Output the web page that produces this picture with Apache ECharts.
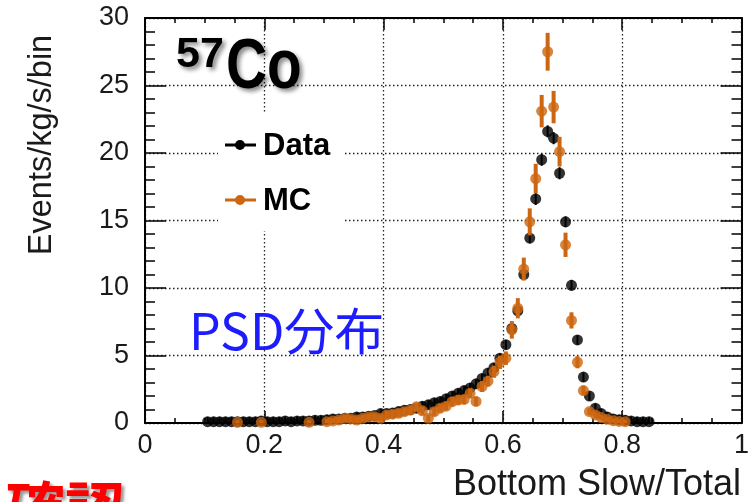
<!DOCTYPE html>
<html>
<head>
<meta charset="utf-8">
<script src="https://cdn.jsdelivr.net/npm/echarts@6/dist/echarts.min.js"></script>
<style>
  html, body { margin: 0; padding: 0; background: #fff; }
  #chart { width: 755px; height: 502px; }
</style>
</head>
<body>
<div id="chart"></div>
<script>
// Measured PSD distribution (Bottom Slow/Total) for the 57Co source
const dataX = [
  0.105, 0.115, 0.125, 0.135, 0.145, 0.155, 0.165, 0.175, 0.185, 0.195,
  0.205, 0.215, 0.225, 0.235, 0.245, 0.255, 0.265, 0.275, 0.285, 0.295,
  0.305, 0.315, 0.325, 0.335, 0.345, 0.355, 0.365, 0.375, 0.385, 0.395,
  0.405, 0.415, 0.425, 0.435, 0.445, 0.455, 0.465, 0.475, 0.485, 0.495,
  0.505, 0.515, 0.525, 0.535, 0.545, 0.555, 0.565, 0.575, 0.585, 0.595,
  0.605, 0.615, 0.625, 0.635, 0.645, 0.655, 0.665, 0.675, 0.685, 0.695,
  0.705, 0.715, 0.725, 0.735, 0.745, 0.755, 0.765, 0.775, 0.785, 0.795,
  0.805, 0.815, 0.825, 0.835, 0.845
];
const dataY = [
  0.1, 0.1, 0.1, 0.1, 0.1, 0.1, 0.1, 0.1, 0.1, 0.15,
  0.1, 0.1, 0.1, 0.15, 0.1, 0.15, 0.15, 0.15, 0.2, 0.2,
  0.25, 0.3, 0.3, 0.35, 0.35, 0.45, 0.45, 0.5, 0.55, 0.7,
  0.7, 0.75, 0.85, 0.95, 1.0, 1.1, 1.25, 1.35, 1.5, 1.6,
  1.8, 2.0, 2.2, 2.4, 2.6, 2.9, 3.3, 3.7, 4.1, 4.8,
  5.8, 7.0, 8.3, 11.0, 13.7, 16.6, 19.5, 21.6, 21.1, 18.5,
  14.9, 10.2, 6.15, 3.4, 2.0, 1.1, 0.7, 0.45, 0.3, 0.25,
  0.2, 0.15, 0.1, 0.1, 0.1
];
const dataErr = [
  0.35, 0.35, 0.35, 0.35, 0.35, 0.35, 0.35, 0.35, 0.35, 0.35,
  0.35, 0.35, 0.35, 0.35, 0.35, 0.35, 0.35, 0.35, 0.35, 0.35,
  0.35, 0.35, 0.35, 0.35, 0.35, 0.35, 0.35, 0.35, 0.35, 0.35,
  0.35, 0.35, 0.35, 0.35, 0.35, 0.35, 0.35, 0.35, 0.35, 0.35,
  0.35, 0.35, 0.35, 0.35, 0.35, 0.35, 0.35, 0.35, 0.35, 0.35,
  0.35, 0.35, 0.4, 0.4, 0.4, 0.45, 0.45, 0.45, 0.45, 0.45,
  0.4, 0.4, 0.35, 0.35, 0.35, 0.35, 0.35, 0.35, 0.35, 0.35,
  0.35, 0.35, 0.35, 0.35, 0.35
];

// Simulated (MC) PSD distribution
const mcX = [
  0.155, 0.195, 0.275, 0.305, 0.315, 0.325, 0.335, 0.345, 0.355, 0.365,
  0.375, 0.385, 0.395, 0.405, 0.415, 0.425, 0.435, 0.445, 0.455, 0.465,
  0.475, 0.485, 0.495, 0.505, 0.515, 0.525, 0.535, 0.545, 0.555, 0.565,
  0.575, 0.585, 0.595, 0.605, 0.615, 0.625, 0.635, 0.645, 0.655, 0.665,
  0.675, 0.685, 0.695, 0.705, 0.715, 0.725, 0.735, 0.745, 0.755, 0.765,
  0.775, 0.785, 0.795, 0.805
];
const mcY = [
  0.05, 0.05, 0.05, 0.1, 0.15, 0.22, 0.35, 0.3, 0.22, 0.35,
  0.45, 0.47, 0.35, 0.6, 0.65, 0.72, 0.84, 0.95, 1.2, 0.9,
  0.35, 0.84, 1.1, 1.25, 1.58, 1.7, 1.75, 2.2, 1.6, 2.7,
  3.1, 3.8, 4.5, 4.8, 6.9, 8.5, 11.4, 14.9, 18.1, 23.1,
  27.5, 23.4, 20.1, 13.2, 7.6, 4.5, 2.4, 0.85, 0.6, 0.4,
  0.27, 0.17, 0.12, 0.1
];
const mcErr = [
  0.15, 0.15, 0.15, 0.2, 0.2, 0.25, 0.25, 0.25, 0.25, 0.25,
  0.25, 0.25, 0.25, 0.3, 0.3, 0.3, 0.3, 0.3, 0.3, 0.3,
  0.25, 0.3, 0.3, 0.3, 0.35, 0.35, 0.35, 0.35, 0.35, 0.4,
  0.4, 0.45, 0.5, 0.5, 0.65, 0.75, 0.85, 1.0, 1.1, 1.2,
  1.4, 1.2, 1.1, 0.9, 0.6, 0.45, 0.35, 0.25, 0.25, 0.2,
  0.2, 0.15, 0.15, 0.15
];

const xTicks = { min: 0, max: 1, step: 0.2 };
const yTicks = { min: 0, max: 30, step: 5 };

const BLACK = '#000000';
const ORANGE = '#cc6611';
const FONT = 'Liberation Sans, Arial, Helvetica, sans-serif';

const chart = echarts.init(document.getElementById('chart'), null, { renderer: 'canvas' });

function rows(xs, ys, es) {
  return xs.map((x, i) => [x, ys[i], es[i]]);
}

function errorBars(color, width) {
  return function (params, api) {
    const x = api.value(0), y = api.value(1), e = api.value(2);
    const lo = api.coord([x, Math.max(0, y - e)]);
    const hi = api.coord([x, y + e]);
    return {
      type: 'line',
      shape: { x1: lo[0], y1: lo[1], x2: hi[0], y2: hi[1] },
      style: { stroke: color, lineWidth: width }
    };
  };
}

const dotted = { type: [1.5, 2.5], color: '#222', width: 1.3 };

function xAxisCfg(pos, labels) {
  return {
    type: 'value', position: pos, min: xTicks.min, max: xTicks.max, interval: xTicks.step,
    axisLine: { show: true, onZero: false, lineStyle: { color: BLACK, width: 2 } },
    axisTick: { show: true, inside: true, length: 12, lineStyle: { color: BLACK, width: 1.5 } },
    minorTick: { show: true, splitNumber: 4, length: 5, lineStyle: { color: BLACK, width: 1.5 } },
    splitLine: { show: labels, lineStyle: dotted },
    minorSplitLine: { show: false },
    axisLabel: { show: labels, fontSize: 27, color: '#1a1a1a', fontFamily: FONT, margin: 9 }
  };
}
function yAxisCfg(pos, labels) {
  return {
    type: 'value', position: pos, min: yTicks.min, max: yTicks.max, interval: yTicks.step,
    axisLine: { show: true, onZero: false, lineStyle: { color: BLACK, width: 2 } },
    axisTick: { show: true, inside: true, length: 21, lineStyle: { color: BLACK, width: 1.5 } },
    minorTick: { show: true, splitNumber: 5, length: 10, lineStyle: { color: BLACK, width: 1.5 } },
    splitLine: { show: labels, lineStyle: dotted },
    minorSplitLine: { show: false },
    axisLabel: { show: labels, fontSize: 27, color: '#1a1a1a', fontFamily: FONT, margin: 16 }
  };
}

const option = {
  animation: false,
  backgroundColor: '#fff',
  grid: { left: 145, top: 18, right: 13.5, bottom: 79, containLabel: false, outerBoundsMode: 'none' },
  xAxis: [xAxisCfg('bottom', true), xAxisCfg('top', false)],
  yAxis: [yAxisCfg('left', true), yAxisCfg('right', false)],
  series: [
    {
      name: 'Data err', type: 'custom', xAxisIndex: 0, yAxisIndex: 0,
      renderItem: errorBars(BLACK, 2), data: rows(dataX, dataY, dataErr), z: 3
    },
    {
      name: 'Data', type: 'scatter', xAxisIndex: 0, yAxisIndex: 0,
      symbol: 'circle', symbolSize: 11, itemStyle: { color: BLACK },
      data: dataX.map((x, i) => [x, dataY[i]]), z: 4
    },
    {
      name: 'MC err', type: 'custom', xAxisIndex: 0, yAxisIndex: 0,
      renderItem: errorBars(ORANGE, 4), data: rows(mcX, mcY, mcErr), z: 5
    },
    {
      name: 'MC', type: 'scatter', xAxisIndex: 0, yAxisIndex: 0,
      symbol: 'circle', symbolSize: 11, itemStyle: { color: ORANGE },
      data: mcX.map((x, i) => [x, mcY[i]]), z: 6
    }
  ],
  graphic: [
    // legend panel
    { type: 'rect', z: 20, shape: { x: 218, y: 113, width: 125, height: 118 }, style: { fill: '#fff' } },
    { type: 'line', z: 21, shape: { x1: 225, y1: 145, x2: 256, y2: 145 }, style: { stroke: BLACK, lineWidth: 3 } },
    { type: 'circle', z: 21, shape: { cx: 240, cy: 145, r: 5 }, style: { fill: BLACK } },
    { type: 'text', z: 21, x: 263, y: 146, style: { text: 'Data', font: 'bold 31px ' + FONT, fill: '#000', textVerticalAlign: 'middle' } },
    { type: 'line', z: 21, shape: { x1: 225, y1: 200, x2: 256, y2: 200 }, style: { stroke: ORANGE, lineWidth: 3 } },
    { type: 'circle', z: 21, shape: { cx: 240, cy: 200, r: 5 }, style: { fill: ORANGE } },
    { type: 'text', z: 21, x: 263, y: 201, style: { text: 'MC', font: 'bold 31px ' + FONT, fill: '#000', textVerticalAlign: 'middle' } },
    // source label
    { type: 'text', z: 22, x: 176, y: 55, style: {
        text: '57', font: 'bold 43px ' + FONT, fill: '#000', textVerticalAlign: 'middle',
        textShadowColor: 'rgba(0,0,0,0.45)', textShadowBlur: 4, textShadowOffsetX: 3, textShadowOffsetY: 3 } },
    { type: 'text', z: 22, x: 226, y: 68, scaleX: 0.8, originX: 0, originY: 0, style: {
        text: 'Co', font: 'bold 71px ' + FONT, fill: '#000', textVerticalAlign: 'middle',
        textShadowColor: 'rgba(0,0,0,0.45)', textShadowBlur: 4, textShadowOffsetX: 3, textShadowOffsetY: 3 } },
    // annotation
    { type: 'text', z: 22, x: 189, y: 331, style: {
        text: 'PSD分布', font: '50px "Noto Sans CJK JP", sans-serif', fill: '#1c1cff', textVerticalAlign: 'middle' } },
    { type: 'text', z: 22, x: 5, y: 479, style: {
        text: '確認', font: 'bold 60px "Noto Sans CJK JP", sans-serif', fill: '#ff0000', textVerticalAlign: 'top',
        textShadowColor: 'rgba(0,0,0,0.4)', textShadowBlur: 3, textShadowOffsetX: 3, textShadowOffsetY: 3 } },
    // axis titles
    { type: 'text', z: 22, x: 42, y: 145, rotation: Math.PI / 2, style: {
        text: 'Events/kg/s/bin', font: '32.5px ' + FONT, fill: '#1a1a1a', textAlign: 'center', textVerticalAlign: 'middle' } },
    { type: 'text', z: 22, x: 741, y: 485, style: {
        text: 'Bottom Slow/Total', font: '36px ' + FONT, fill: '#1a1a1a', textAlign: 'right', textVerticalAlign: 'middle' } }
  ]
};

chart.setOption(option);
</script>
</body>
</html>
